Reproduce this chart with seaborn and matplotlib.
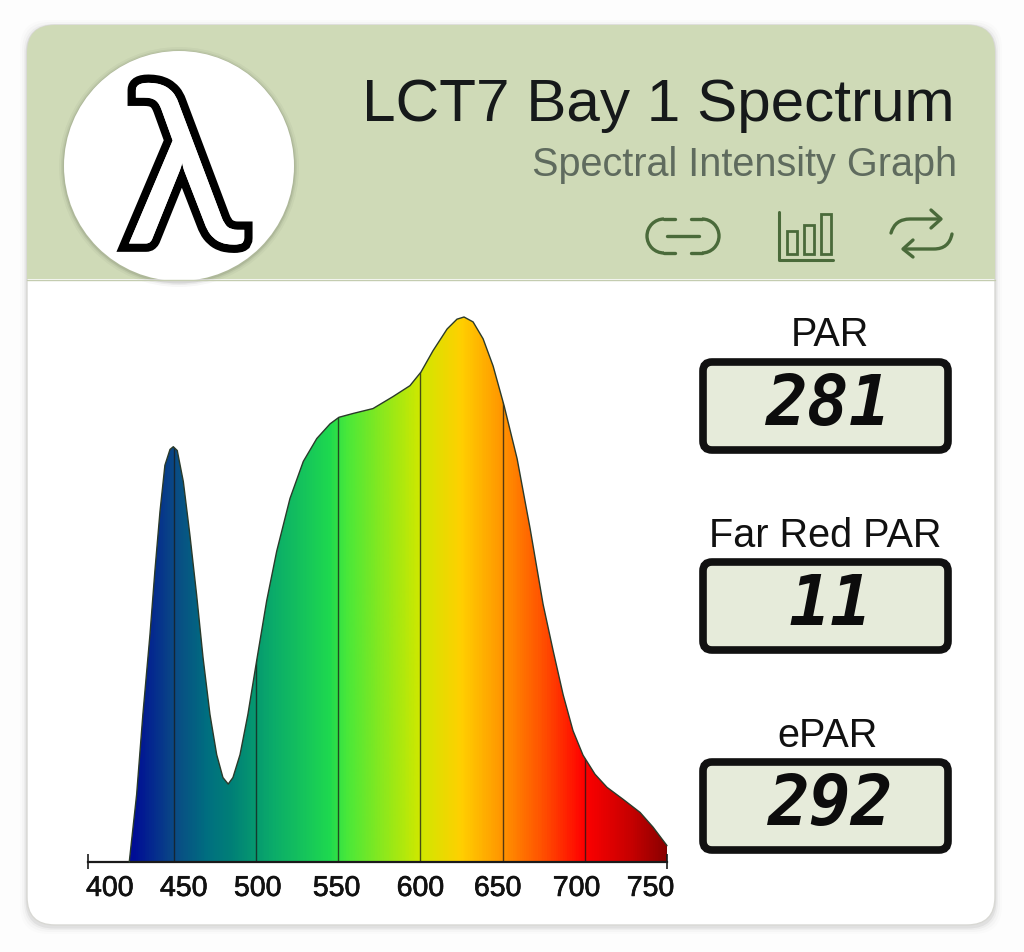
import numpy as np
import matplotlib
matplotlib.use("Agg")
import matplotlib.pyplot as plt
import matplotlib.patheffects as pe
from matplotlib.colors import LinearSegmentedColormap
from matplotlib.patches import FancyBboxPatch, Circle, Rectangle, Arc, PathPatch
from matplotlib.path import Path
import seaborn as sns

# Spectrum (relative intensity, peak = 100)
wavelengths = [422.8, 427.3, 431.1, 435.4, 438.4, 441.5, 444.5, 447.6, 449.6, 452.0,
               455.7, 459.7, 463.8, 467.7, 471.9, 476.0, 479.8, 483.0, 485.9, 490.2,
               495.0, 500.3, 506.4, 512.5, 520.6, 528.7, 536.9, 542.9, 545.0, 550.4,
               559.0, 571.1, 583.3, 593.6, 600.3, 607.6, 616.2, 622.2, 626.5, 632.0,
               638.1, 644.2, 650.9, 658.8, 666.7, 674.6, 680.7, 686.8, 692.8, 698.9,
               706.2, 713.5, 723.3, 733.6, 741.5, 750.0]
intensity = [0.0, 12.4, 27.1, 41.7, 53.4, 64.3, 72.8, 75.7, 76.2, 75.5,
             69.8, 60.0, 49.0, 37.5, 27.1, 19.7, 15.5, 14.3, 15.5, 19.7,
             27.1, 36.9, 47.9, 57.0, 66.7, 73.5, 77.7, 79.7, 80.4, 81.6,
             82.3, 83.2, 85.4, 87.4, 89.9, 93.8, 97.8, 99.6, 100.0, 99.1,
             96.0, 91.0, 83.7, 74.0, 61.2, 47.3, 38.8, 30.7, 24.1, 19.6,
             16.1, 13.7, 11.5, 9.1, 6.4, 3.0]
grid_nm = [450, 500, 550, 600, 650, 700, 750]
tick_labels = ["400", "450", "500", "550", "600", "650", "700", "750"]
# the labels sit off the gridlines in the original
tick_label_nm = [411, 456, 501, 549, 600, 647, 695, 740]

meter_names = ["PAR", "Far Red PAR", "ePAR"]
meter_values = ["281", "11", "292"]

title = "LCT7 Bay 1 Spectrum"
subtitle = "Spectral Intensity Graph"

color_nm = [398, 425, 450, 470, 485, 510, 545, 555, 600, 625, 650, 675, 700, 730, 750]
color_hex = ["#000d96", "#000d96", "#0a4a85", "#006f80", "#008077", "#0bab6a", "#1ed94f",
             "#48e83a", "#cfe800", "#ffd000", "#ff9500", "#ff5000", "#ff0000", "#c40000", "#8a0000"]

W, H = 1024, 953
HEADER = "#cfdab7"
ICON = "#4a6a3a"

sns.set_theme(style="white")
plt.rcParams["font.family"] = ["Liberation Sans", "DejaVu Sans"]

fig = plt.figure(figsize=(W / 100, H / 100), dpi=100, facecolor="#fdfdfd")

# background layer in pixel coordinates
bg = fig.add_axes([0, 0, 1, 1])
bg.set_xlim(0, W)
bg.set_ylim(H, 0)
bg.axis("off")

# card with a soft shadow
for grow, a in [(7, 0.012), (5, 0.018), (3, 0.03), (1.5, 0.05)]:
    bg.add_patch(FancyBboxPatch((55 - grow, 54 - grow + 2), 912 + 2 * grow, 844 + 2 * grow,
                                boxstyle="round,pad=28,rounding_size=28", fc="black", ec="none", alpha=a))
card = FancyBboxPatch((55, 54), 912, 844, boxstyle="round,pad=28,rounding_size=28",
                      fc="white", ec="#d8d8d4", lw=1)
bg.add_patch(card)
head = Rectangle((27, 26), 968, 254, fc=HEADER, ec="none")
bg.add_patch(head)
head.set_clip_path(card)
bg.plot([27, 995], [280.5, 280.5], color="#c4ccb0", lw=1)

# logo
for grow, a in [(5, 0.03), (3, 0.05), (1.5, 0.08)]:
    bg.add_patch(Circle((179, 168), 115 + grow, fc="black", ec="none", alpha=a))
bg.add_patch(Circle((179, 167), 115, fc="white", ec="none"))
bg.text(184, 182, "λ", fontsize=160, family="Lato", color="white", ha="center", va="center",
        path_effects=[pe.withStroke(linewidth=12, foreground="black", joinstyle="miter"), pe.Normal()])

# header text
bg.text(955, 121, title, fontsize=43.4, color="#16191a", ha="right", va="baseline")
bg.text(957, 176, subtitle, fontsize=28.5, color="#5f6b5e", ha="right", va="baseline")

# link icon
icon_kw = dict(color=ICON, lw=2.4, solid_capstyle="round")
bg.add_patch(Arc((664, 237), 34, 34, theta1=90, theta2=270, ec=ICON, lw=2.4))
bg.add_patch(Arc((702, 237), 34, 34, theta1=270, theta2=90, ec=ICON, lw=2.4))
bg.plot([664, 675], [220, 220], **icon_kw)
bg.plot([664, 675], [254, 254], **icon_kw)
bg.plot([691, 702], [220, 220], **icon_kw)
bg.plot([691, 702], [254, 254], **icon_kw)
bg.plot([667, 699], [237, 237], **icon_kw)

# bar chart icon
bg.plot([779, 779, 833], [213, 261, 261], color=ICON, lw=2.2)
for bx, bt in [(787, 232), (804, 226), (821, 215)]:
    bg.add_patch(Rectangle((bx, bt), 10, 255 - bt, fc="none", ec=ICON, lw=2))

# repeat icon
for verts in ([(891, 234), (895, 220), (910, 220), (940, 220)],
              [(952, 235), (949, 250), (934, 250), (904, 250)]):
    codes = [Path.MOVETO, Path.CURVE3, Path.LINETO, Path.LINETO]
    bg.add_patch(PathPatch(Path(verts, codes), fc="none", ec=ICON, lw=2.4, capstyle="round"))
bg.plot([931, 941, 931], [211, 220, 229], **icon_kw)
bg.plot([913, 903, 913], [241, 250, 258], **icon_kw)

# meters
for name, value, box_top, name_y, name_x, val_x in zip(meter_names, meter_values, [364, 564, 764],
                                                       [346, 547, 747], [830, 825, 828], [829, 830, 831]):
    bg.text(name_x, name_y, name, fontsize=28.5, color="#111111", ha="center", va="baseline")
    bg.add_patch(FancyBboxPatch((713, box_top + 9), 225, 68, boxstyle="round,pad=10,rounding_size=9",
                                fc="#e6ebda", ec="#111111", lw=5.5))
    bg.text(val_x, box_top + 42, value, fontsize=50, family="DejaVu Sans Mono", style="italic",
            weight="bold", color="#0c0c0c", ha="center", va="center")

# spectrum axes: x 88..667 px, 100% at y=318, baseline at y=863
ax = fig.add_axes([88 / W, 1 - 863 / H, (667 - 88) / W, (863 - 318) / H], facecolor="none")
x_lo, x_hi = 397.7, 750.0

cmap = LinearSegmentedColormap.from_list(
    "spectrum", [((n - color_nm[0]) / (color_nm[-1] - color_nm[0]), c) for n, c in zip(color_nm, color_hex)])
fill = ax.fill_between(wavelengths, 0, intensity, color="none")
im = ax.imshow(np.linspace(0, 1, 700)[None, :], extent=[color_nm[0], color_nm[-1], 0, 100],
               aspect="auto", cmap=cmap, zorder=1)
clip_path = Path(fill.get_paths()[0].vertices)
im.set_clip_path(clip_path, ax.transData)

lines = ax.vlines(grid_nm, 0, 100, color="#1a1a1a", lw=1, alpha=0.75, zorder=2)
lines.set_clip_path(clip_path, ax.transData)

sns.lineplot(x=wavelengths, y=intensity, ax=ax, color="#2a3a2a", lw=1, estimator=None, zorder=3, clip_on=False)

ax.set_xlim(x_lo, x_hi)
ax.set_ylim(0, 100)
ax.set_yticks([])
ax.set_xticks(tick_label_nm, tick_labels)
ax.tick_params(axis="x", length=0, pad=10, labelsize=20.5, labelcolor="#111111")
for lab in ax.get_xticklabels():
    lab.set_path_effects([pe.withStroke(linewidth=0.5, foreground="#111111")])
for s in ["top", "left", "right"]:
    ax.spines[s].set_visible(False)
ax.spines["bottom"].set_color("#1a1a1a")
ax.spines["bottom"].set_linewidth(1.6)
ax.vlines([x_lo, x_hi], -1.2, 1.4, color="#1a1a1a", lw=1.2, clip_on=False, zorder=4)

fig.savefig("out.png", dpi=100, facecolor=fig.get_facecolor())
